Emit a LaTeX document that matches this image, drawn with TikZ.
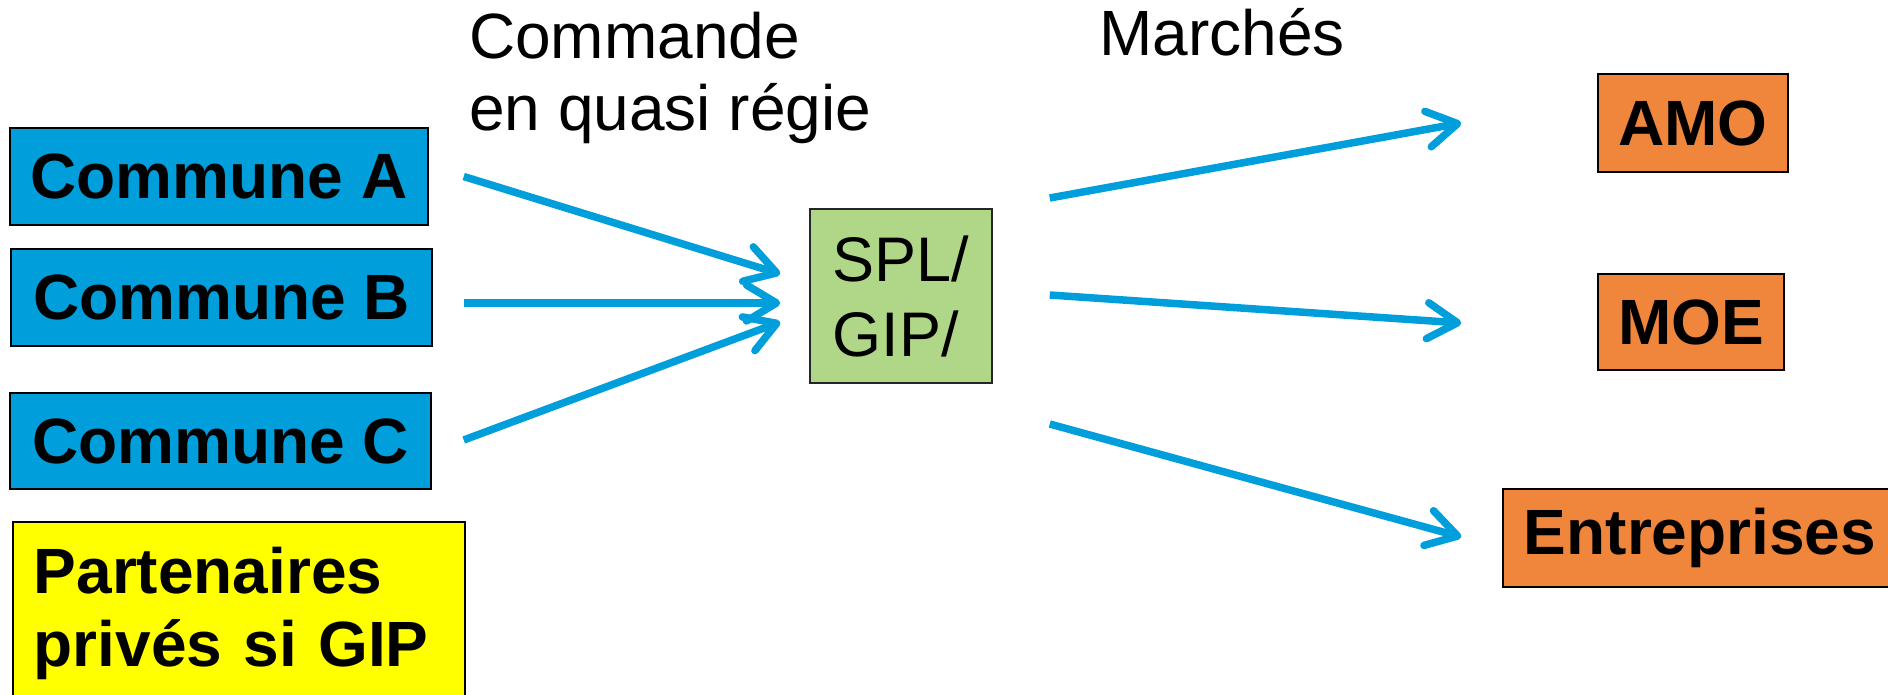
\documentclass[tikz,border=0pt]{standalone}
\usepackage{fontspec}
\setmainfont{Liberation Sans}
\usetikzlibrary{arrows.meta}
\definecolor{cblue}{RGB}{0,158,219}
\definecolor{cgreen}{RGB}{176,215,136}
\definecolor{corange}{RGB}{240,134,60}
\definecolor{cyellow}{RGB}{255,255,0}
\begin{document}
\begin{tikzpicture}[x=1pt,y=-1pt,
  box/.style={draw=black, line width=1.5pt, inner sep=0pt, font=\fontsize{64pt}{73pt}\selectfont\bfseries},
  greenbox/.style={draw=black!85, line width=1.5pt, inner sep=0pt, align=left, font=\fontsize{63pt}{75pt}\selectfont},
  lbl/.style={inner sep=0pt, align=left, font=\fontsize{64pt}{72pt}\selectfont},
  arr/.style={draw=cblue, line width=7.5pt, -{Straight Barb[length=30pt,width=36pt,round]}}]
\useasboundingbox (0,0) rectangle (1888,694);
\clip (0,0) rectangle (1888,694);
% left boxes
\node[box, fill=cblue, minimum width=418pt, minimum height=97pt] (ca) at (219,176.5) {Commune A};
\node[box, fill=cblue, minimum width=421pt, minimum height=97pt] (cb) at (221.5,297.5) {Commune B};
\node[box, fill=cblue, minimum width=421pt, minimum height=96pt] (cc) at (220.5,441) {Commune C};
\node[box, fill=cyellow, anchor=north west, align=left, inner xsep=21pt, inner ysep=25pt, text width=410pt] (pp) at (12,521) {Partenaires\\privés si GIP};
% centre
\node[greenbox, fill=cgreen, minimum width=182pt, minimum height=174pt] (spl) at (901,296) {SPL/\\GIP/};
% right boxes
\node[box, fill=corange, minimum width=190pt, minimum height=98pt] (amo) at (1693,123) {AMO};
\node[box, fill=corange, minimum width=186pt, minimum height=96pt] (moe) at (1691,322) {MOE};
\node[box, fill=corange, minimum width=394pt, minimum height=98pt] (ent) at (1700,538) {Entreprises};
% labels
\node[lbl, anchor=base west] (cmd) at (469,130) {Commande\\en quasi régie};
\node[lbl, anchor=base west] (mar) at (1099,55) {Marchés};
% arrows
\draw[arr] ([xshift=35pt]ca.east) -- ([xshift=-29pt,yshift=22pt]spl.west);
\draw[arr] ([xshift=31pt,yshift=-5.5pt]cb.east) -- ([xshift=-29pt,yshift=-7pt]spl.west);
\draw[arr] ([xshift=32pt,yshift=1pt]cc.east) -- ([xshift=-29pt,yshift=-26pt]spl.west);
\draw[arr] ([xshift=57pt,yshift=98pt]spl.east) -- ([xshift=-136pt]amo.west);
\draw[arr] ([xshift=57pt,yshift=1pt]spl.east) -- ([xshift=-136pt,yshift=-1pt]moe.west);
\draw[arr] ([xshift=57pt,yshift=-128pt]spl.east) -- ([xshift=-41pt,yshift=1pt]ent.west);
\end{tikzpicture}
\end{document}
